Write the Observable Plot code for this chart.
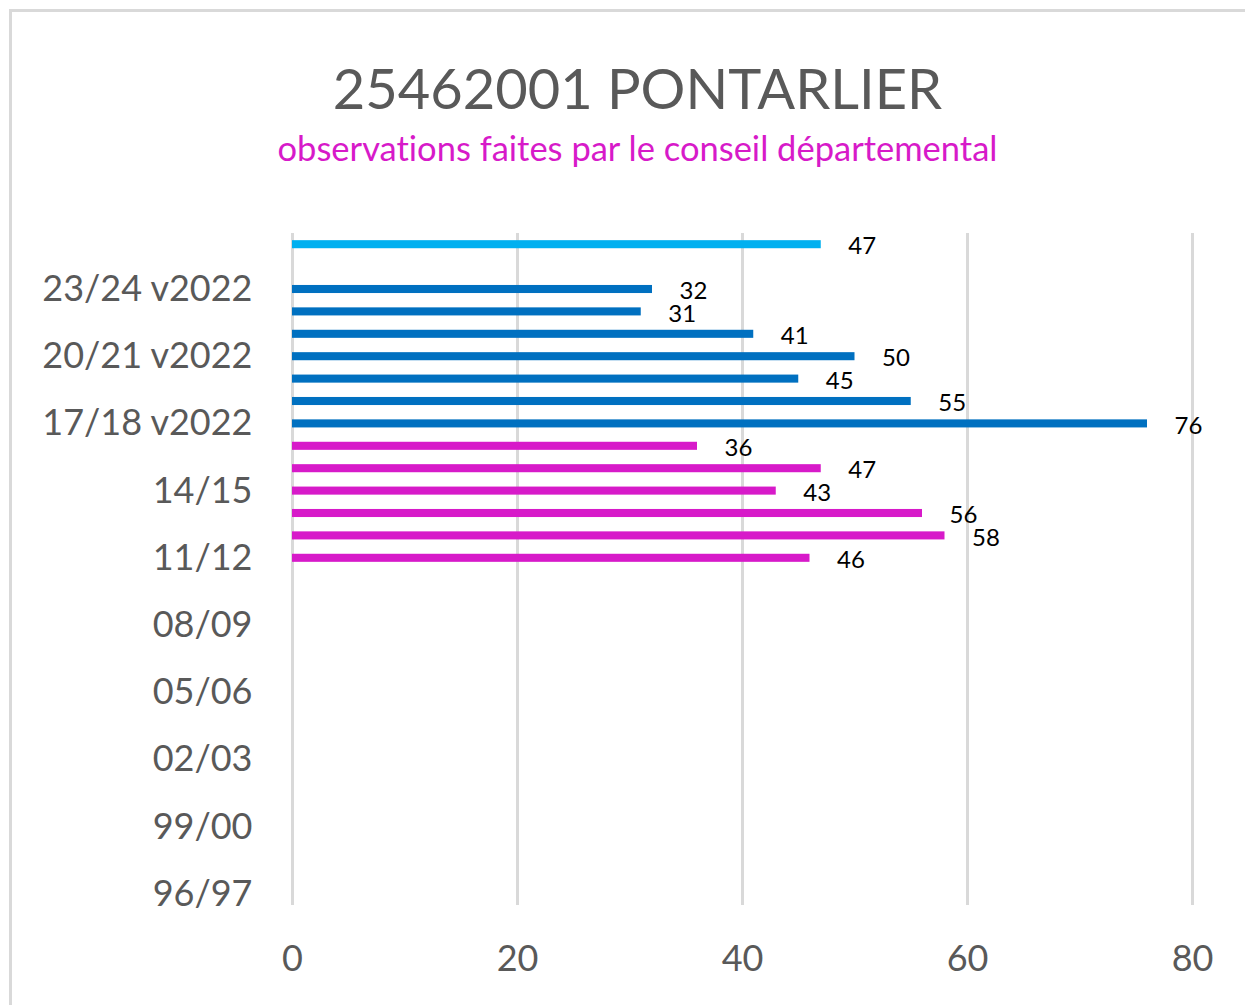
<!DOCTYPE html>
<html>
<head>
<meta charset="utf-8">
<script src="https://cdn.jsdelivr.net/npm/d3@7"></script>
<script src="https://cdn.jsdelivr.net/npm/@observablehq/plot@0.6"></script>
<style>
  html, body { margin: 0; padding: 0; background: #fff; overflow: hidden; }
  #wrap { position: relative; width: 1245px; height: 1005px; overflow: hidden; font-family: Lato, "Open Sans", sans-serif; font-variant-ligatures: none; }
  #frame { position: absolute; left: 9px; top: 9px; width: 1300px; height: 1100px; border: 3px solid #D9D9D9; box-sizing: border-box; }
  #title { position: absolute; left: 0; width: 1275px; top: 60px; text-align: center; font-size: 56px; line-height: 56px; color: #595959; white-space: nowrap; }
  #subtitle { position: absolute; left: 0; width: 1275px; top: 131px; text-align: center; font-size: 34.5px; line-height: 34.5px; color: #D71AC9; white-space: nowrap; }
  #chart { position: absolute; left: 0; top: 201px; }
  svg text { font-variant-ligatures: none; }
</style>
</head>
<body>
<div id="wrap">
  <div id="frame"></div>
  <div id="title">25462001 PONTARLIER</div>
  <div id="subtitle">observations faites par le conseil départemental</div>
  <div id="chart"></div>
</div>
<script>
// Categories (bottom to top)
const seasons = [
  "96/97", "97/98", "98/99", "99/00", "00/01", "01/02", "02/03", "03/04", "04/05", "05/06",
  "06/07", "07/08", "08/09", "09/10", "10/11", "11/12", "12/13", "13/14", "14/15", "15/16",
  "16/17", "17/18 v2022", "18/19 v2022", "19/20 v2022", "20/21 v2022", "21/22 v2022",
  "22/23 v2022", "23/24 v2022", "24/25 v2022", "25/26 v2022"
];
// Values per season (null = no observation)
const values = [
  null, null, null, null, null, null, null, null, null, null,
  null, null, null, null, null, 46, 58, 56, 43, 47,
  36, 76, 55, 45, 50, 41,
  31, 32, null, 47
];
// Series membership per season
const series = [
  "", "", "", "", "", "", "", "", "", "",
  "", "", "", "", "", "conseil", "conseil", "conseil", "conseil", "conseil",
  "conseil", "v2022", "v2022", "v2022", "v2022", "v2022",
  "v2022", "v2022", "", "v2022 récent"
];
const seriesNames = ["conseil", "v2022", "v2022 récent"];
const seriesColors = ["#D71AC9", "#0070C0", "#00B0F0"];
// Axis tick labels shown
const yTicks = ["96/97", "99/00", "02/03", "05/06", "08/09", "11/12", "14/15", "17/18 v2022", "20/21 v2022", "23/24 v2022"];
const xTicks = [0, 20, 40, 60, 80];

const data = seasons.map((s, i) => ({season: s, value: values[i], series: series[i]}))
  .filter(d => d.value != null);

const chart = Plot.plot({
  width: 1245,
  height: 784,
  marginLeft: 292,
  marginRight: 53,
  marginTop: 32,
  marginBottom: 80,
  style: {fontFamily: "Lato, 'Open Sans', sans-serif", background: "transparent"},
  x: {domain: [0, 80], label: null},
  y: {domain: seasons.slice().reverse(), paddingInner: 0.64, paddingOuter: 0.32, round: false, label: null},
  color: {domain: seriesNames, range: seriesColors},
  marks: [
    Plot.gridX(xTicks, {stroke: "#D9D9D9", strokeWidth: 3, strokeOpacity: 1}),
    Plot.barX(data, {x: "value", y: "season", fill: "series"}),
    Plot.text(data, {x: "value", y: "season", text: d => String(d.value), textAnchor: "middle", dx: 41, dy: 2, fontSize: 24, fill: "#000"}),
    Plot.axisY({ticks: yTicks, tickSize: 0, tickPadding: 40, fontSize: 36, color: "#595959", label: null}),
    Plot.axisX({ticks: xTicks, tickSize: 0, tickPadding: 40, fontSize: 36, color: "#595959", label: null})
  ]
});
document.getElementById("chart").appendChild(chart);
</script>
</body>
</html>
